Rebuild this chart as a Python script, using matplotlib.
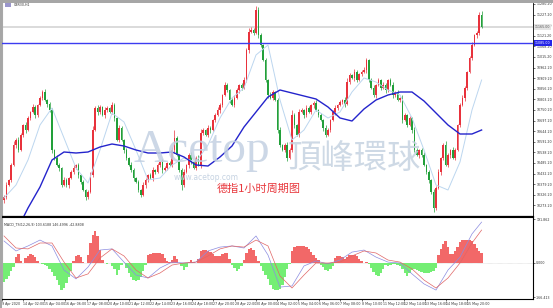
import numpy as np
import matplotlib
matplotlib.use("Agg")
import matplotlib.pyplot as plt
from matplotlib.patches import Rectangle
import matplotlib.transforms as mtransforms

# ------------------------------------------------------------------
# Data (prices in index points)
first_open = 10300
closes = [
    10315, 10375, 10400, 10475, 10575, 10600, 10550, 10625, 10675, 10650,
    10710, 10740, 10765, 10725, 10775, 10810, 10840, 10800, 10780, 10750,
    10550, 10510, 10475, 10460, 10375, 10400, 10375, 10410, 10440, 10460,
    10475, 10425, 10390, 10350, 10315, 10340, 10425, 10650, 10760, 10740,
    10765, 10725, 10750, 10760, 10740, 10775, 10710, 10600, 10660, 10600,
    10550, 10510, 10475, 10450, 10410, 10390, 10350, 10325, 10375, 10400,
    10425, 10410, 10450, 10440, 10475, 10490, 10450, 10460, 10485, 10475,
    10550, 10610, 10525, 10450, 10375, 10440, 10475, 10525, 10490, 10460,
    10510, 10475, 10635, 10650, 10625, 10660, 10650, 10700, 10725, 10750,
    10775, 10825, 10875, 10850, 10800, 10775, 10810, 10850, 10875, 10860,
    10900, 11050, 11140, 11150, 11135, 11250, 11125, 11075, 11000, 10900,
    10825, 10810, 10840, 10800, 10650, 10575, 10550, 10575, 10510, 10550,
    10725, 10675, 10625, 10740, 10750, 10725, 10760, 10740, 10775, 10785,
    10750, 10725, 10700, 10660, 10625, 10650, 10700, 10740, 10760, 10775,
    10790, 10800, 10780, 10890, 10925, 10910, 10940, 10900, 10930, 10940,
    10950, 11000, 10900, 10860, 10825, 10875, 10900, 10860, 10875, 10850,
    10900, 10875, 10825, 10840, 10800, 10810, 10700, 10725, 10675, 10710,
    10650, 10550, 10525, 10550, 10525, 10475, 10440, 10400, 10340, 10260,
    10360, 10440, 10510, 10575, 10475, 10525, 10550, 10510, 10550, 10675,
    10775, 10810, 10860, 10940, 11010, 11075, 11125, 11135, 11225, 11165,
]
up_wick = [
    10, 15, 5, 10, 20, 10, 15, 10, 5, 15, 10, 5, 15, 10, 5, 10, 10, 15, 5, 10,
    10, 5, 15, 10, 5, 15, 10, 5, 10, 15, 5, 10, 5, 10, 5, 10, 15, 20, 10, 15,
    10, 5, 15, 10, 5, 15, 10, 5, 15, 10, 5, 10, 5, 15, 10, 5, 10, 5, 15, 10,
    5, 10, 15, 5, 10, 5, 15, 10, 5, 10, 15, 40, 10, 5, 10, 15, 5, 10, 15, 5,
    10, 15, 20, 10, 5, 15, 10, 5, 10, 15, 10, 5, 15, 10, 5, 10, 15, 10, 5, 10,
    15, 10, 20, 15, 10, 20, 15, 10, 5, 10, 5, 15, 10, 5, 10, 15, 5, 10, 15, 10,
    25, 10, 5, 15, 10, 5, 15, 10, 5, 10, 15, 5, 10, 5, 15, 10, 5, 10, 15, 5,
    10, 5, 15, 20, 10, 5, 15, 10, 5, 10, 15, 10, 5, 10, 15, 5, 10, 5, 15, 10,
    5, 10, 15, 5, 10, 5, 15, 10, 5, 10, 5, 15, 10, 5, 10, 15, 5, 10, 5, 15,
    10, 15, 5, 10, 20, 10, 5, 15, 10, 5, 10, 15, 10, 5, 10, 15, 5, 10, 15, 20,
]
dn_wick = [
    15, 10, 5, 10, 5, 15, 10, 5, 10, 15, 5, 10, 5, 15, 10, 5, 10, 5, 15, 10,
    15, 10, 5, 15, 10, 5, 10, 15, 5, 10, 5, 15, 10, 5, 15, 10, 5, 10, 5, 15,
    10, 5, 15, 10, 5, 10, 15, 5, 10, 5, 15, 10, 5, 10, 15, 5, 10, 10, 5, 15,
    10, 5, 15, 10, 5, 10, 15, 5, 10, 5, 10, 15, 5, 10, 25, 10, 5, 15, 10, 5,
    10, 5, 15, 10, 5, 10, 15, 5, 10, 5, 15, 10, 5, 10, 15, 5, 10, 5, 15, 10,
    5, 10, 15, 5, 10, 5, 15, 10, 5, 10, 15, 5, 10, 5, 15, 10, 5, 10, 15, 5,
    10, 15, 5, 10, 5, 15, 10, 5, 10, 15, 5, 10, 5, 15, 10, 5, 10, 5, 15, 10,
    5, 10, 15, 5, 10, 5, 15, 10, 5, 10, 5, 15, 10, 5, 10, 15, 5, 10, 5, 15,
    10, 5, 15, 10, 5, 10, 15, 5, 10, 5, 15, 10, 5, 15, 10, 5, 10, 15, 10, 20,
    10, 5, 15, 10, 5, 10, 15, 5, 10, 5, 10, 5, 15, 10, 5, 10, 5, 15, 10, 5,
]

# moving averages, read every 5th bar (last one at the final bar)
ma_slow = [10025, 10140, 10260, 10365, 10500, 10540, 10535, 10540, 10565, 10580,
           10570, 10550, 10535, 10535, 10540, 10515, 10475, 10470, 10515, 10570,
           10665, 10740, 10815, 10850, 10835, 10820, 10805, 10765, 10710, 10695,
           10755, 10800, 10825, 10840, 10840, 10795, 10735, 10675, 10630, 10630,
           10650]
ma_fast = [10310, 10375, 10500, 10675, 10760, 10610, 10460, 10385, 10550, 10735,
           10690, 10550, 10400, 10410, 10475, 10510, 10490, 10575, 10710, 10810,
           10860, 11025, 11075, 10800, 10600, 10650, 10750, 10710, 10740, 10840,
           10910, 10890, 10850, 10825, 10710, 10550, 10375, 10350, 10490, 10750,
           10900]

# MACD panel
macd_hist = [
    -84, -70, -57, -35, -18, 26, 40, 9, 0, 22, 31, 40, 35, 26, 9, 0, -4, -9, -13, -26,
    -40, -57, -75, -97, -119, -110, -88, -62, -35, 9, 31, 35, 26, 4, 0, 35, 88, 123, 141, 119,
    57, 13, 0, -4, 0, -13, -26, -53, -31, -9, 0, -22, -44, -62, -75, -79, -75, -62, -35, -9,
    35, 40, 44, 44, 44, 44, 40, 22, 9, 4, 13, 31, 18, 0, -13, -31, -18, 4, 13, 4,
    0, 18, 53, 57, 57, 53, 48, 40, 31, 31, 31, 40, 44, 44, 18, -9, -22, -35, -26, -13,
    13, 44, 62, 66, 57, 31, 9, -13, -35, -53, -70, -97, -114, -119, -119, -114, -97, -62, -26, -4,
    53, 70, 75, 75, 75, 75, 70, 62, 48, 35, 22, 13, -9, -18, -31, -35, -26, -13, 22, 31,
    31, 26, 18, 26, 35, 35, 35, 31, 18, 9, 0, 4, -4, -22, -40, -53, -57, -44, -26, -9,
    -13, -9, -4, -4, -9, -13, -26, -44, -57, -44, -31, -26, -31, -35, -40, -44, -44, -44, -40, -35,
    -22, 35, 62, 84, 97, 70, 40, 40, 53, 70, 92, 101, 101, 101, 101, 97, 84, 66, 53, 44,
]
macd_main = [97, 53, 75, 101, 75, -31, -70, -18, 57, 62, 4, -53, -66, -22, 4, 0,
             4, 53, 70, 75, 66, 119, 35, -106, -101, -13, 9, -4, 13, 48, 57, 26,
             4, 0, -48, -92, -119, -31, 26, 128, 180]
macd_signal = [119, 66, 62, 88, 88, 4, -66, -48, 22, 62, 31, -31, -66, -44, -9, 0,
               4, 31, 62, 75, 70, 101, 75, -57, -110, -53, 0, 0, 4, 31, 53, 44,
               13, 4, -26, -75, -110, -66, 0, 88, 145]

time_labels = ["9 Apr 2020", "14 Apr 02:00", "15 Apr 04:00", "16 Apr 06:00",
               "17 Apr 08:00", "20 Apr 10:00", "21 Apr 12:00", "22 Apr 14:00",
               "23 Apr 16:00", "24 Apr 18:00", "27 Apr 20:00", "28 Apr 22:00",
               "30 Apr 00:00", "4 May 02:00", "5 May 04:00", "6 May 06:00",
               "7 May 08:00", "8 May 10:00", "11 May 12:00", "12 May 14:00",
               "13 May 16:00", "14 May 18:00", "15 May 20:00"]

bid_price = 11165
level_price = 11085
macd_ticks = [191.862, 0.0, -150.0]
macd_tick_text = ["191.862", "0.000", "-166.413"]

# ------------------------------------------------------------------
W, H = 553, 308


def fx(x):
    return x / W


def fy(y):
    return 1 - y / H


closes = np.array(closes)
opens = np.concatenate([[first_open], closes[:-1]])
highs = np.maximum(opens, closes) + np.array(up_wick)
lows = np.minimum(opens, closes) - np.array(dn_wick)
idx = np.arange(len(closes))
ma_idx = np.append(np.arange(0, len(closes), 5), len(closes) - 1)

UP = '#e8323c'
DOWN = '#22a03a'

fig = plt.figure(figsize=(W / 100, H / 100), dpi=100)
fig.patch.set_facecolor('white')

ax = fig.add_axes([fx(2), fy(216), (533 - 2) / W, (216 - 3) / H])
ax2 = fig.add_axes([fx(2), fy(299), (533 - 2) / W, (299 - 217) / H])

xlim = ((2 - 4) / 2.4, (533 - 4) / 2.4)

# candles
colors = np.where(closes >= opens, UP, DOWN)
ax.vlines(idx, lows, highs, colors=colors, lw=0.5, zorder=2)
body = np.where(np.abs(closes - opens) < 3, 3, closes - opens)
ax.bar(idx, body, bottom=opens, width=0.62, color=colors, lw=0, zorder=2)

ax.plot(ma_idx, ma_fast, color='#bcd6ef', lw=0.7, zorder=3)
ax.plot(ma_idx, ma_slow, color='#2424cc', lw=1.0, zorder=3)

ax.axhline(bid_price, color='#d4d4d4', lw=1.2, zorder=1)
ax.axhline(level_price, color='#3c3cf0', lw=1.0, zorder=3)

ax.set_xlim(*xlim)
ax.set_ylim(10220, 11285)
ax.set_xticks([])
ax.set_yticks(11280.2 - 53.0 * np.arange(20))
ax.yaxis.set_major_formatter(matplotlib.ticker.FormatStrFormatter('%.2f'))
ax.tick_params(axis='y', left=False, labelleft=False, right=True, labelright=True,
               length=1.5, width=0.4, pad=0.8, labelsize=2.3, labelcolor='#333333')
ax.spines['top'].set_visible(False)
ax.spines['left'].set_color('#a8a8a8')
ax.spines['right'].set_linewidth(0.6)
ax.spines['bottom'].set_linewidth(0.9)

trans = mtransforms.blended_transform_factory(ax.transAxes, ax.transData)
ax.text(1.004, level_price, "%.2f" % level_price, transform=trans, fontsize=2.3,
        color='white', va='center', ha='left',
        bbox=dict(boxstyle='square,pad=0.25', fc='#2424e8', ec='none'))
ax.text(1.004, bid_price, "%.2f" % bid_price, transform=trans, fontsize=2.3,
        color='#555555', va='center', ha='left',
        bbox=dict(boxstyle='square,pad=0.25', fc='#e4e4e4', ec='none'))

# watermark and caption
fig.text(fx(134), fy(162), "Acetop", fontsize=34, family='Liberation Serif',
         color='#c3d1e2', alpha=0.85, ha='left', va='baseline', zorder=0.5)
fig.text(fx(206), fy(178), "www.acetop.com", fontsize=5.5, color='#c6d3e2',
         ha='center', va='center')
fig.text(fx(354), fy(158), "頂峰環球", fontsize=24,
         family=['Noto Sans CJK TC', 'DejaVu Sans'], color='#c6d3e1', alpha=0.85,
         ha='center', va='center')
fig.text(fx(259), fy(189), "德指1小时周期图", fontsize=8,
         family=['Noto Sans CJK SC', 'DejaVu Sans'], color='#e8383d',
         ha='center', va='center')

fig.patches.append(Rectangle((fx(5), fy(6.5)), 6 / W, 3.5 / H, transform=fig.transFigure,
                             fc='#9a96cc', ec='none'))
fig.text(fx(14), fy(5), "GER30,H1", fontsize=2.3, color='#333333', va='center')

# MACD panel
hcol = np.where(np.array(macd_hist) >= 0, '#f26868', '#74ee74')
ax2.bar(idx, macd_hist, width=1.0, color=hcol, lw=0, zorder=1)
ax2.plot(ma_idx, macd_main, color='#8c8ce0', lw=0.5, zorder=2)
ax2.plot(ma_idx, macd_signal, color='#e06666', lw=0.5, zorder=2)
ax2.axhline(0, color='#c8c8c8', lw=0.4, ls=(0, (1, 1)), zorder=0)
ax2.set_xlim(*xlim)
ax2.set_ylim(-158.4, 202.4)
ax2.set_yticks(macd_ticks)
ax2.set_yticklabels(macd_tick_text)
ax2.tick_params(axis='y', left=False, labelleft=False, right=True, labelright=True,
                length=1.5, width=0.4, pad=0.8, labelsize=2.3, labelcolor='#333333')
tick_pos = (2 + 21.15 * np.arange(len(time_labels)) - 4) / 2.4
ax2.set_xticks(tick_pos)
ax2.set_xticklabels(time_labels, ha='left', fontsize=2.3, color='#333333')
ax2.tick_params(axis='x', length=1.5, width=0.4, pad=1)
ax2.spines['left'].set_color('#a8a8a8')
for s in ['top', 'right', 'bottom']:
    ax2.spines[s].set_linewidth(0.8)
fig.text(fx(4), fy(224), "MACD_TS(12,26,9) 103.6188 146.4996 -42.8808",
         fontsize=2.3, color='#333333', va='center')

# window border
fig.patches.append(Rectangle((0, fy(2.5)), 1, 2.5 / H, transform=fig.transFigure,
                             fc='#a6a6a6', ec='none'))
fig.patches.append(Rectangle((0, 0), 1.5 / W, 1, transform=fig.transFigure,
                             fc='#a6a6a6', ec='none'))

fig.savefig("out.png", dpi=100)
